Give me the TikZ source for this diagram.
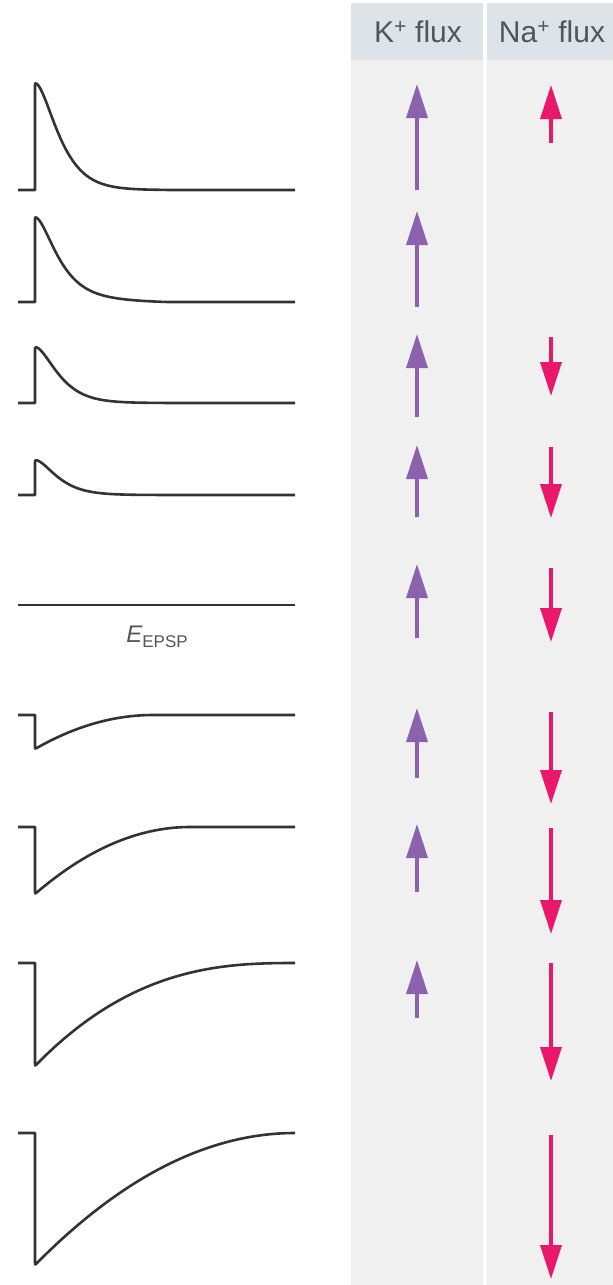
\documentclass[tikz,border=0pt]{standalone}
\usepackage{fontspec}
\setmainfont{Liberation Sans}
\usetikzlibrary{arrows.meta}
\definecolor{hdr}{HTML}{DCE3E9}
\definecolor{panel}{HTML}{F0F0F0}
\definecolor{kcol}{HTML}{8C62AE}
\definecolor{nacol}{HTML}{E9186B}
\definecolor{tracecol}{HTML}{333333}
\definecolor{txt}{HTML}{555555}
\tikzset{
  tr/.style={draw=tracecol, line width=2.6pt, line join=round},
  karrow/.style={draw=kcol, line width=3.6pt, -{Triangle[length=34pt,width=21pt]}},
  naarrow/.style={draw=nacol, line width=3.6pt, -{Triangle[length=34pt,width=21pt]}},
  hdrtext/.style={text=txt, font=\fontsize{30}{34}\selectfont, inner sep=0pt},
}
% positive trace: baseline, amplitude, time constant
\newcommand\postrace[3]{%
  \draw[tr] (18,#1) -- (35,#1) -- (35,{#1-#2+2.5}) .. controls (35,{#1-#2}) ..
    (37,{#1-#2*(1+2/#3)*exp(-2/#3)}) --
    plot[domain=37:{35+13*#3},samples=120] (\x,{#1-#2*(1+(\x-35)/#3)*exp(-(\x-35)/#3)}) -- (295,#1);}
% negative trace: baseline, amplitude, length, exponent
\newcommand\negtrace[4]{%
  \draw[tr] (18,#1) -- (35,#1) -- (35,{#1+#2-2.5}) .. controls (35,{#1+#2}) ..
    (37,{#1+#2*pow(1-2/#3,#4)}) --
    plot[domain=37:{35+#3-1},samples=120] (\x,{#1+#2*pow(1-(\x-35)/#3,#4)}) -- (295,#1);}
\begin{document}
\begin{tikzpicture}[x=1pt,y=-1pt]
\useasboundingbox (0,0) rectangle (613,1285);
\fill[white] (0,0) rectangle (613,1285);
% panels
\fill[panel] (351,60) rectangle (483,1285);
\fill[panel] (487,60) rectangle (613,1285);
\fill[hdr] (351,3) rectangle (483,60);
\fill[hdr] (487,3) rectangle (613,60);
\node[hdrtext] (khdr) at (418,32) {K\textsuperscript{+} flux};
\node[hdrtext] (nahdr) at (552,32) {Na\textsuperscript{+} flux};

% traces
\postrace{190}{107}{14.7}
\draw[tr] (18,302) -- (35,302) -- (35,219.5) .. controls (35,217) ..
  (37,{302-76*(1+2/14)*exp(-2/14)-9*pow(1-2/135,1.5)}) --
  plot[domain=37:169,samples=120] (\x,{302-76*(1+(\x-35)/14)*exp(-(\x-35)/14)-9*pow(1-(\x-35)/135,1.5)}) -- (295,302);
\postrace{403}{56}{14.5}
\postrace{495}{35}{14}
\draw[tr] (18,605) -- (295,605);
\node[text=txt, inner sep=0pt] (elabel) at (157,637) {{\fontsize{24}{27}\selectfont\itshape E}\raisebox{-5pt}{\fontsize{17}{19}\selectfont EPSP}};
\negtrace{715}{34}{118}{2}
\negtrace{827}{67}{155}{2}
\negtrace{963}{103}{260}{2.6}
\negtrace{1133}{132}{260}{2}

% K+ arrows
\coordinate (k1a) at (417,190); \coordinate (k1b) at (417,84);
\coordinate (k2a) at (417,307); \coordinate (k2b) at (417,211);
\coordinate (k3a) at (417,417); \coordinate (k3b) at (417,334);
\coordinate (k4a) at (417,517); \coordinate (k4b) at (417,445);
\coordinate (k5a) at (417,638); \coordinate (k5b) at (417,564);
\coordinate (k6a) at (417,778); \coordinate (k6b) at (417,708);
\coordinate (k7a) at (417,892); \coordinate (k7b) at (417,824);
\coordinate (k8a) at (417,1018); \coordinate (k8b) at (417,960);
\foreach \i in {1,...,8} \draw[karrow] (k\i a) -- (k\i b);

% Na+ arrows
\coordinate (n1a) at (551,143); \coordinate (n1b) at (551,85);
\coordinate (n3a) at (551,337); \coordinate (n3b) at (551,396);
\coordinate (n4a) at (551,447); \coordinate (n4b) at (551,518);
\coordinate (n5a) at (551,568); \coordinate (n5b) at (551,642);
\coordinate (n6a) at (551,712); \coordinate (n6b) at (551,804);
\coordinate (n7a) at (551,828); \coordinate (n7b) at (551,934);
\coordinate (n8a) at (551,963); \coordinate (n8b) at (551,1081);
\coordinate (n9a) at (551,1135); \coordinate (n9b) at (551,1279);
\foreach \i in {1,3,4,5,6,7,8,9} \draw[naarrow] (n\i a) -- (n\i b);
\end{tikzpicture}
\end{document}
